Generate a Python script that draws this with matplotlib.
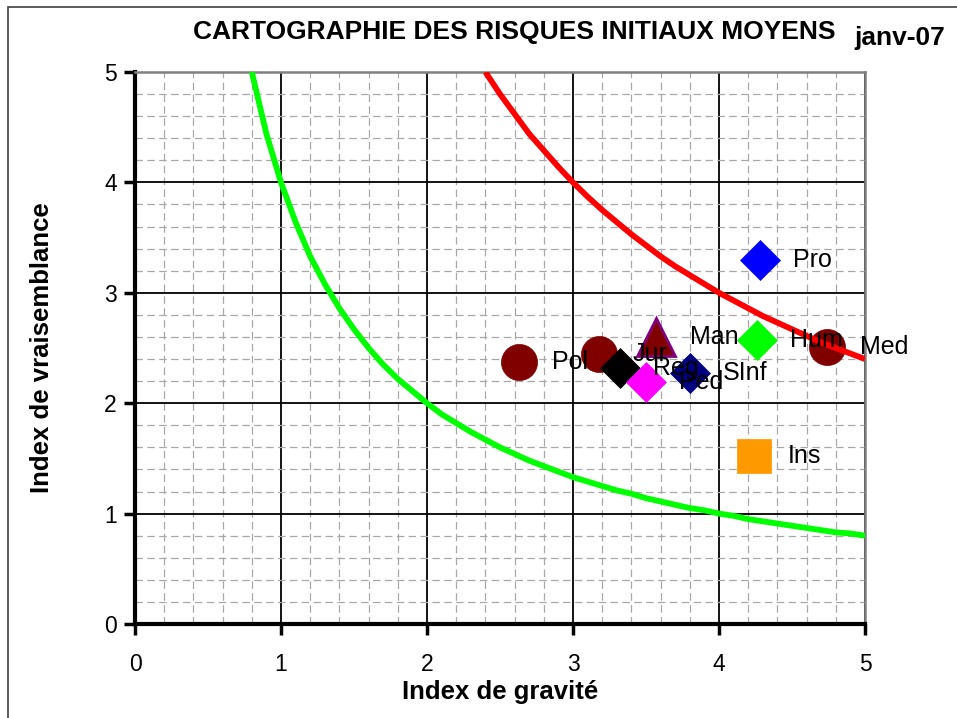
import matplotlib
matplotlib.use('Agg')
import matplotlib.pyplot as plt
from matplotlib.patches import Rectangle

# iso-risk curves
green_x = [0.8, 0.9, 1.0, 1.1, 1.2, 1.3, 1.4, 1.5, 1.6, 1.7, 1.8, 1.9, 2.0, 2.1, 2.2,
           2.3, 2.4, 2.5, 2.6, 2.7, 2.8, 2.9, 3.0, 3.1, 3.2, 3.3, 3.4, 3.5, 3.6, 3.7,
           3.8, 3.9, 4.0, 4.1, 4.2, 4.3, 4.4, 4.5, 4.6, 4.7, 4.8, 4.9, 5.0]
green_y = [5.00, 4.44, 4.00, 3.64, 3.33, 3.08, 2.86, 2.67, 2.50, 2.35, 2.22, 2.11, 2.00,
           1.90, 1.82, 1.74, 1.67, 1.60, 1.54, 1.48, 1.43, 1.38, 1.33, 1.29, 1.25, 1.21,
           1.18, 1.14, 1.11, 1.08, 1.05, 1.03, 1.00, 0.98, 0.95, 0.93, 0.91, 0.89, 0.87,
           0.85, 0.83, 0.82, 0.80]
red_x = [2.4, 2.5, 2.6, 2.7, 2.8, 2.9, 3.0, 3.1, 3.2, 3.3, 3.4, 3.5, 3.6, 3.7, 3.8,
         3.9, 4.0, 4.1, 4.2, 4.3, 4.4, 4.5, 4.6, 4.7, 4.8, 4.9, 5.0]
red_y = [5.00, 4.80, 4.62, 4.44, 4.29, 4.14, 4.00, 3.87, 3.75, 3.64, 3.53, 3.43, 3.33,
         3.24, 3.16, 3.08, 3.00, 2.93, 2.86, 2.79, 2.73, 2.67, 2.61, 2.55, 2.50, 2.45, 2.40]

# risks
names = ['Pol', 'Jur', 'Reg', 'Ped', 'Man', 'SInf', 'Hum', 'Med', 'Pro', 'Ins']
gravite = [2.63, 3.18, 3.32, 3.50, 3.57, 3.80, 4.26, 4.74, 4.28, 4.24]
vraisemblance = [2.37, 2.45, 2.32, 2.19, 2.60, 2.27, 2.57, 2.51, 3.30, 1.52]
markers = ['o', 'o', 'D', 'D', '^', 'D', 'D', 'o', 'D', 's']
faces = ['#800000', '#800000', '#000000', '#FF00FF', '#800000', '#000080',
         '#00FF00', '#800000', '#0000FF', '#FF9900']
edges = ['#800000', '#800000', '#000000', '#FF00FF', '#800080', '#000080',
         '#00FF00', '#800000', '#0000FF', '#FF9900']

plt.rcParams['font.family'] = ['Liberation Sans', 'DejaVu Sans']

fig = plt.figure(figsize=(9.57, 7.18), dpi=100)
ax = fig.add_axes([135/957, 1-624/718, 730/957, 552/718])

sizes = {'o': 26, 'D': 20, '^': 27, 's': 25}
for i, n in enumerate(names):
    ax.plot(gravite[i], vraisemblance[i], marker=markers[i], ms=sizes[markers[i]],
            mfc=faces[i], mec=edges[i], mew=2 if markers[i] == '^' else 0.5,
            ls='none', zorder=3, clip_on=False)

ax.plot(green_x, green_y, color='#00FF00', lw=4.2, zorder=4, solid_capstyle='butt')
ax.plot(red_x, red_y, color='#FF0000', lw=4.2, zorder=4, solid_capstyle='butt')

for i, n in enumerate(names):
    kw = {}
    if n == 'SInf':
        kw['bbox'] = dict(facecolor='white', edgecolor='none', pad=0.5)
    ax.annotate(n, (gravite[i], vraisemblance[i]), xytext=(24, 0),
                textcoords='offset points', fontsize=18, va='center', ha='left',
                zorder=5 if n != 'Ped' else 4.5, **kw)

ax.set_xlim(0, 5)
ax.set_ylim(0, 5)
ax.set_xticks([0, 1, 2, 3, 4, 5])
ax.set_yticks([0, 1, 2, 3, 4, 5])
ax.set_xticks([i * 0.2 for i in range(26)], minor=True)
ax.set_yticks([i * 0.2 for i in range(26)], minor=True)
ax.grid(which='major', color='black', lw=1.3, zorder=1)
ax.grid(which='minor', color='#A8A8A8', lw=0.9, ls=(0, (6, 3.5)), zorder=0.9)
ax.set_axisbelow(True)
ax.tick_params(which='minor', length=0)
ax.tick_params(which='major', direction='out', length=8, width=2.5, labelsize=16.5)
ax.tick_params(axis='x', pad=13)
ax.tick_params(axis='y', pad=5)

for s in ['left', 'bottom']:
    ax.spines[s].set_linewidth(3)
    ax.spines[s].set_color('black')
for s in ['top', 'right']:
    ax.spines[s].set_linewidth(1.8)
    ax.spines[s].set_color('#808080')

ax.set_xlabel('Index de gravité', fontsize=18.5, fontweight='bold', labelpad=3)
ax.set_ylabel('Index de vraisemblance', fontsize=18.5, fontweight='bold', labelpad=36)

fig.text(514/957, 1-32/718, 'CARTOGRAPHIE DES RISQUES INITIAUX MOYENS', fontsize=19,
         fontweight='bold', ha='center', va='center')
fig.text(900/957, 1-38/718, 'janv-07', fontsize=19, fontweight='bold',
         ha='center', va='center')

# outer chart frame (cut on the right and bottom)
fig.patches.append(Rectangle((8/957, -0.1), 1.2, 1.1 - 7/718, transform=fig.transFigure,
                             fill=False, edgecolor='#404040', lw=1.2))

fig.savefig('out.png', dpi=100)
